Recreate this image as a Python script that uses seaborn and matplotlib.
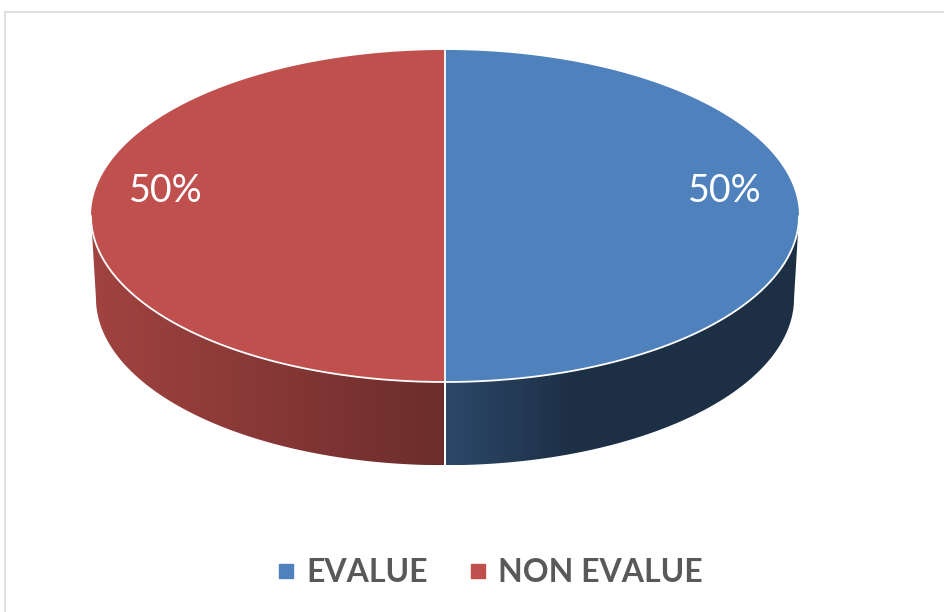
import numpy as np
import matplotlib
matplotlib.use("Agg")
import matplotlib.pyplot as plt
from matplotlib.patches import Polygon, Rectangle
from matplotlib.lines import Line2D
import seaborn as sns

# Chart data
categories = ["EVALUE", "NON EVALUE"]
shares = [50, 50]
label_texts = ["50%", "50%"]

sns.set_theme(style="white")
plt.rcParams["font.family"] = ["Lato", "DejaVu Sans"]

top_colors = sns.color_palette(["#4f81bd", "#c0504d"])

W, H = 945, 612
fig = plt.figure(figsize=(W / 100, H / 100), dpi=100)
fig.patch.set_facecolor("white")
ax = fig.add_axes([0, 0, 1, 1])

# pie drawn in radius units: 354 px per unit, centre at pixel (445, 216)
scale = 354.0
cx, cy = 445.0, 216.0
xlim = (-cx / scale, (W - cx) / scale)
ylim = ((cy - H) / scale, cy / scale)

# 3-D look: flattened top ellipse, slightly smaller bottom ellipse below it
ry_top = 0.469
rx_bot, ry_bot, depth = 0.986, 0.472, 0.232


def top_pt(t):
    r = np.radians(t)
    return np.cos(r), ry_top * np.sin(r)


def bot_pt(t):
    r = np.radians(t)
    return rx_bot * np.cos(r), -depth + ry_bot * np.sin(r)


def shade(x):
    # light comes from the left: side walls darken towards the right
    return np.interp(x, [-1.0, 0.0, 0.35, 1.0], [0.84, 0.56, 0.37, 0.37])


fracs = np.asarray(shares, dtype=float) / np.sum(shares)
bounds = 90.0 - 360.0 * np.concatenate([[0.0], np.cumsum(fracs)])

# side walls (front half only)
for i in range(len(shares)):
    hi, lo = bounds[i], bounds[i + 1]
    for k in range(-2, 2):
        a = max(lo, 180 + 360 * k)
        b = min(hi, 360 + 360 * k)
        if b <= a:
            continue
        ts = np.linspace(a, b, 200)
        tx, ty = top_pt(ts)
        bx, by = bot_pt(ts[::-1])
        pts = np.column_stack([np.concatenate([tx, bx]), np.concatenate([ty, by])])
        poly = Polygon(pts, closed=True, facecolor="none", edgecolor="none")
        ax.add_patch(poly)
        x0, x1 = pts[:, 0].min(), pts[:, 0].max()
        y0, y1 = pts[:, 1].min(), pts[:, 1].max()
        xs = np.linspace(x0, x1, 300)
        base = np.array(top_colors[i])
        img = (shade(xs)[:, None] * base[None, :])[None, :, :]
        im = ax.imshow(img, extent=[x0, x1, y0, y1], aspect="auto",
                       interpolation="bilinear", origin="lower", zorder=1)
        im.set_clip_path(poly)
        # white divider down the wall where a slice boundary faces us
        for t in (a, b):
            if np.sin(np.radians(t)) < -1e-9 and not np.isclose(t, 180 + 360 * k) \
                    and not np.isclose(t, 360 + 360 * k):
                px, py = top_pt(t)
                qx, qy = bot_pt(t)
                ax.plot([px, qx], [py, qy], color="white", lw=1.3, zorder=4)

# top faces
for i in range(len(shares)):
    ts = np.linspace(bounds[i], bounds[i + 1], 300)
    tx, ty = top_pt(ts)
    pts = np.column_stack([np.concatenate([[0], tx]), np.concatenate([[0], ty])])
    ax.add_patch(Polygon(pts, closed=True, facecolor=top_colors[i],
                         edgecolor="none", zorder=2))

# white edges: front rim and radial slice boundaries
ts = np.linspace(180, 360, 300)
rx, ry = top_pt(ts)
ax.plot(rx, ry, color="white", lw=1.3, zorder=3)
for t in bounds[:-1]:
    px, py = top_pt(t)
    ax.plot([0, px], [0, py], color="white", lw=1.3, zorder=3)

# percentage labels
for i, txt in enumerate(label_texts):
    mid = np.radians((bounds[i] + bounds[i + 1]) / 2)
    ax.text(0.79 * np.cos(mid), 0.79 * ry_top * np.sin(mid) + 0.07, txt,
            color="white", fontsize=27, ha="center", va="center", zorder=5)

ax.set_xlim(*xlim)
ax.set_ylim(*ylim)
ax.set_aspect("auto")
ax.axis("off")

# legend
handles = [Line2D([], [], marker="s", linestyle="", markersize=10,
                  markerfacecolor=top_colors[i], markeredgecolor=top_colors[i])
           for i in range(len(categories))]
fig.legend(handles, categories, loc="center", bbox_to_anchor=(0.519, 0.064),
           ncol=2, frameon=False, handlelength=0.5, handletextpad=0.4,
           columnspacing=1.3, prop={"weight": "bold", "size": 23},
           labelcolor="#595959")

# chart area border
fig.add_artist(Rectangle((5 / W, -0.1), 1.2, 1 - 12 / H + 0.1, fill=False,
                         edgecolor="#d9d9d9", lw=1.2, transform=fig.transFigure))

fig.savefig("out.png", dpi=100, facecolor="white")
